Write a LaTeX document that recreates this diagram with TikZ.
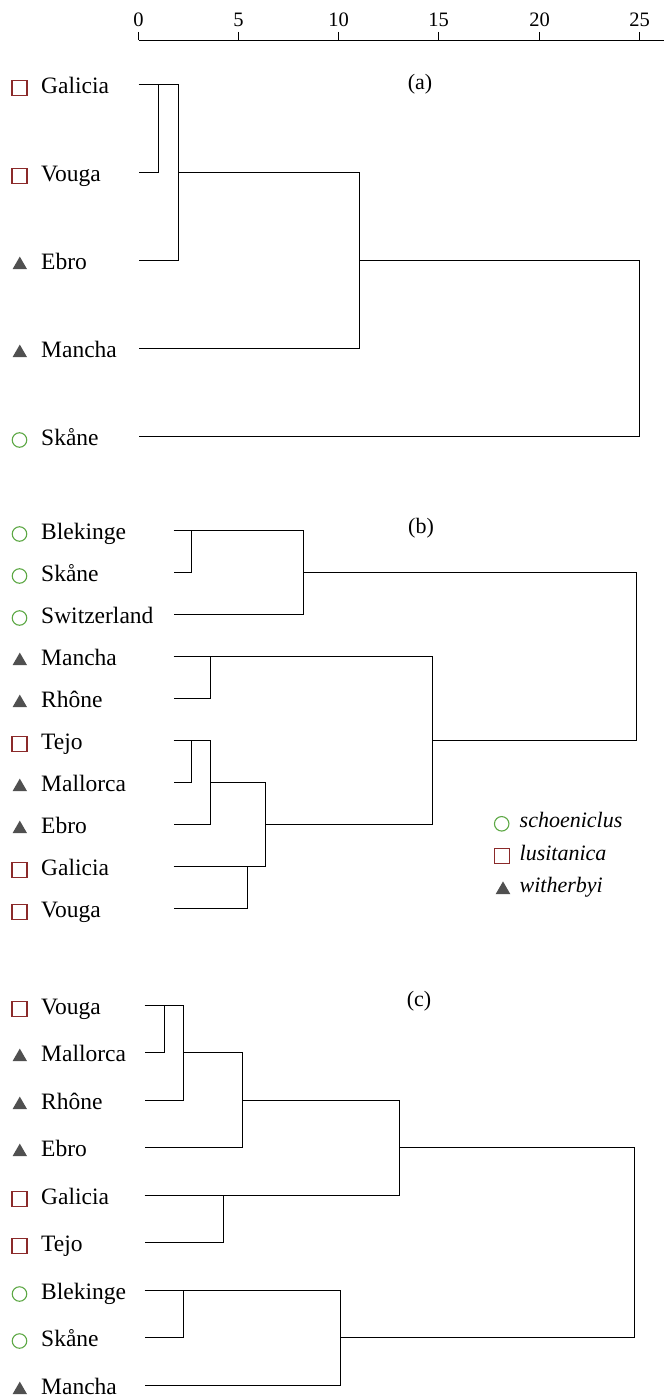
\documentclass[tikz,border=0pt]{standalone}
\usepackage{fontspec}
\setmainfont{Liberation Serif}
\usetikzlibrary{shapes.geometric}

\definecolor{lusired}{RGB}{139,42,42}
\definecolor{schoegreen}{RGB}{93,168,69}
\definecolor{withegray}{RGB}{80,80,80}

\tikzset{
  lusi/.style={draw=lusired, line width=1.1pt, minimum size=15pt, inner sep=0pt},
  schoe/.style={circle, draw=schoegreen, line width=1.1pt, minimum size=14.5pt, inner sep=0pt},
  withe/.style={regular polygon, regular polygon sides=3, fill=withegray, minimum size=16.8pt, inner sep=0pt},
  leaf/.style={anchor=base west, inner sep=0pt, font=\fontsize{23.5}{26}\selectfont},
  tick/.style={anchor=base, inner sep=0pt, font=\fontsize{20.5}{24}\selectfont},
  panel/.style={inner sep=0pt, font=\fontsize{22}{26}\selectfont},
  legend/.style={anchor=base west, inner sep=0pt, font=\fontsize{22}{26}\selectfont\itshape},
  tree/.style={line width=1.2pt},
}

\begin{document}
\begin{tikzpicture}[x=1pt, y=-1pt]
    \useasboundingbox (0,0) rectangle (664,1397);

    % scale
    \draw[tree] (138.5,40.5) -- (664,40.5);
    \draw[tree] (138.5,32) -- (138.5,40.5);
    \draw[tree] (238.5,32) -- (238.5,40.5);
    \draw[tree] (338.5,32) -- (338.5,40.5);
    \draw[tree] (438.5,32) -- (438.5,40.5);
    \draw[tree] (539.5,32) -- (539.5,40.5);
    \draw[tree] (639.5,32) -- (639.5,40.5);
    \node [tick] (t0) at (138.5,26.7) {0};
    \node [tick] (t5) at (238.5,26.7) {5};
    \node [tick] (t10) at (338.5,26.7) {10};
    \node [tick] (t15) at (438.5,26.7) {15};
    \node [tick] (t20) at (539.5,26.7) {20};
    \node [tick] (t25) at (639.5,26.7) {25};

    % panel (a)
    \node [panel] (pa) at (420,84.5) {(a)};

    \coordinate (aGal) at (138.5,84.5);
    \coordinate (aVou) at (138.5,172.5);
    \coordinate (aEbr) at (138.5,260.5);
    \coordinate (aMan) at (138.5,348.5);
    \coordinate (aSka) at (138.5,436.5);

    \node [lusi] (aGalm) at (19.5,88) {};
    \node [leaf] (aGalt) at (41,93.5) {Galicia};
    \node [lusi] (aVoum) at (19.5,176) {};
    \node [leaf] (aVout) at (41,181.5) {Vouga};
    \node [withe] (aEbrm) at (19.8,265) {};
    \node [leaf] (aEbrt) at (41,269.5) {Ebro};
    \node [withe] (aManm) at (19.8,353) {};
    \node [leaf] (aMant) at (41,357.5) {Mancha};
    \node [schoe] (aSkam) at (19.5,440) {};
    \node [leaf] (aSkat) at (41,445.5) {Skåne};

    \coordinate (a1) at (158.5,84.5);
    \coordinate (a2) at (178.5,172.5);
    \coordinate (a3) at (359.5,260.5);
    \coordinate (a4) at (639.5,348.5);
    \draw[tree] (aGal) -| (a1) |- (aVou);
    \draw[tree] (a1) -| (a2) |- (aEbr);
    \draw[tree] (a2) -| (a3) |- (aMan);
    \draw[tree] (a3) -| (a4) |- (aSka);

    % panel (b)
    \node [panel] (pb) at (421,528) {(b)};

    \coordinate (bBle) at (173.5,530.5);
    \coordinate (bSka) at (173.5,572.5);
    \coordinate (bSwi) at (173.5,614.5);
    \coordinate (bMan) at (173.5,656.5);
    \coordinate (bRho) at (173.5,698.5);
    \coordinate (bTej) at (173.5,740.5);
    \coordinate (bMal) at (173.5,782.5);
    \coordinate (bEbr) at (173.5,824.5);
    \coordinate (bGal) at (173.5,866.5);
    \coordinate (bVou) at (173.5,908.5);

    \node [schoe] (bBlem) at (19.5,534) {};
    \node [leaf] (bBlet) at (41,539.5) {Blekinge};
    \node [schoe] (bSkam) at (19.5,576) {};
    \node [leaf] (bSkat) at (41,581.5) {Skåne};
    \node [schoe] (bSwim) at (19.5,618) {};
    \node [leaf] (bSwit) at (41,623.5) {Switzerland};
    \node [withe] (bManm) at (19.8,661) {};
    \node [leaf] (bMant) at (41,665.5) {Mancha};
    \node [withe] (bRhom) at (19.8,703) {};
    \node [leaf] (bRhot) at (41,707.5) {Rhône};
    \node [lusi] (bTejm) at (19.5,744) {};
    \node [leaf] (bTejt) at (41,749.5) {Tejo};
    \node [withe] (bMalm) at (19.8,787) {};
    \node [leaf] (bMalt) at (41,791.5) {Mallorca};
    \node [withe] (bEbrm) at (19.8,829) {};
    \node [leaf] (bEbrt) at (41,833.5) {Ebro};
    \node [lusi] (bGalm) at (19.5,870) {};
    \node [leaf] (bGalt) at (41,875.5) {Galicia};
    \node [lusi] (bVoum) at (19.5,912) {};
    \node [leaf] (bVout) at (41,917.5) {Vouga};

    \coordinate (b1) at (191.5,530.5);
    \coordinate (b2) at (303.5,572.5);
    \coordinate (b3) at (210.5,656.5);
    \coordinate (b4) at (191.5,740.5);
    \coordinate (b5) at (210.5,782.5);
    \coordinate (b6) at (247.5,866.5);
    \coordinate (b7) at (265.5,824.5);
    \coordinate (b8) at (432.5,740.5);
    \coordinate (b9) at (636.5,650);
    \draw[tree] (bBle) -| (b1) |- (bSka);
    \draw[tree] (b1) -| (b2) |- (bSwi);
    \draw[tree] (bMan) -| (b3) |- (bRho);
    \draw[tree] (bTej) -| (b4) |- (bMal);
    \draw[tree] (b4) -| (b5) |- (bEbr);
    \draw[tree] (bGal) -| (b6) |- (bVou);
    \draw[tree] (b5) -| (b7) |- (b6);
    \draw[tree] (b3) -| (b8) |- (b7);
    \draw[tree] (b2) -| (b9) |- (b8);

    % legend
    \node [schoe] (lgs) at (501.7,823.8) {};
    \node [legend] (lgst) at (519.5,827.5) {schoeniclus};
    \node [lusi] (lgl) at (501.7,856) {};
    \node [legend] (lglt) at (519.5,860.5) {lusitanica};
    \node [withe] (lgw) at (503,889.8) {};
    \node [legend] (lgwt) at (519.5,892.5) {witherbyi};

    % panel (c)
    \node [panel] (pc) at (419,1001.5) {(c)};

    \coordinate (cVou) at (144.5,1005.5);
    \coordinate (cMal) at (144.5,1052.5);
    \coordinate (cRho) at (144.5,1100.5);
    \coordinate (cEbr) at (144.5,1147.5);
    \coordinate (cGal) at (144.5,1195.5);
    \coordinate (cTej) at (144.5,1242.5);
    \coordinate (cBle) at (144.5,1290.5);
    \coordinate (cSka) at (144.5,1337.5);
    \coordinate (cMan) at (144.5,1385.5);

    \node [lusi] (cVoum) at (19.5,1009) {};
    \node [leaf] (cVout) at (41,1014.5) {Vouga};
    \node [withe] (cMalm) at (19.8,1057) {};
    \node [leaf] (cMalt) at (41,1061.5) {Mallorca};
    \node [withe] (cRhom) at (19.8,1105) {};
    \node [leaf] (cRhot) at (41,1109.5) {Rhône};
    \node [withe] (cEbrm) at (19.8,1152) {};
    \node [leaf] (cEbrt) at (41,1156.5) {Ebro};
    \node [lusi] (cGalm) at (19.5,1199) {};
    \node [leaf] (cGalt) at (41,1204.5) {Galicia};
    \node [lusi] (cTejm) at (19.5,1246) {};
    \node [leaf] (cTejt) at (41,1251.5) {Tejo};
    \node [schoe] (cBlem) at (19.5,1294) {};
    \node [leaf] (cBlet) at (41,1299.5) {Blekinge};
    \node [schoe] (cSkam) at (19.5,1341) {};
    \node [leaf] (cSkat) at (41,1346.5) {Skåne};
    \node [withe] (cManm) at (19.8,1390) {};
    \node [leaf] (cMant) at (41,1394.5) {Mancha};

    \coordinate (c1) at (164.5,1005.5);
    \coordinate (c2) at (183.5,1052.5);
    \coordinate (c3) at (242.5,1100.5);
    \coordinate (c4) at (223.5,1195.5);
    \coordinate (c5) at (399.5,1147.5);
    \coordinate (c6) at (183.5,1290.5);
    \coordinate (c7) at (340.5,1337.5);
    \coordinate (c8) at (634.5,1240);
    \draw[tree] (cVou) -| (c1) |- (cMal);
    \draw[tree] (c1) -| (c2) |- (cRho);
    \draw[tree] (c2) -| (c3) |- (cEbr);
    \draw[tree] (cGal) -| (c4) |- (cTej);
    \draw[tree] (c3) -| (c5) |- (c4);
    \draw[tree] (cBle) -| (c6) |- (cSka);
    \draw[tree] (c6) -| (c7) |- (cMan);
    \draw[tree] (c5) -| (c8) |- (c7);

\end{tikzpicture}
\end{document}
